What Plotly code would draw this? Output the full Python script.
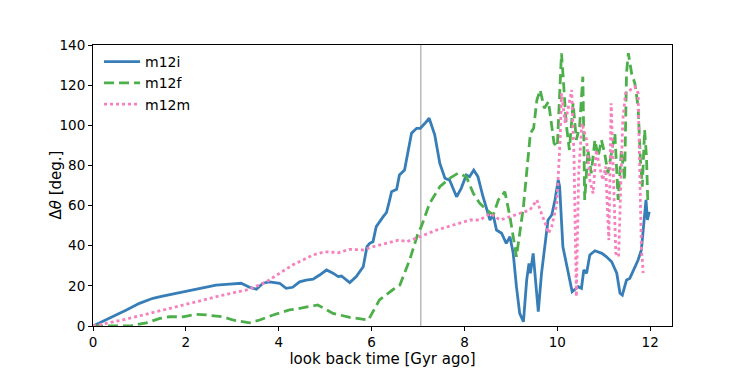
import plotly.graph_objects as go

# m12i (solid blue)
m12i_t = [0, 0.36, 0.72, 1.0, 1.29, 1.5, 1.79, 2.08, 2.37, 2.65, 2.94, 3.19, 3.37, 3.52,
          3.66, 3.8, 4.02, 4.16, 4.3, 4.45, 4.59, 4.74, 4.88, 5.03, 5.17, 5.28, 5.35, 5.53,
          5.67, 5.82, 5.9, 5.96, 6.03, 6.1, 6.25, 6.32, 6.39, 6.43, 6.54, 6.6, 6.71,
          6.86, 6.97, 7.05, 7.15, 7.24, 7.36, 7.47, 7.58, 7.68, 7.83, 7.93, 8.04, 8.11, 8.2,
          8.29, 8.4, 8.48, 8.55, 8.62, 8.69, 8.8, 8.9, 8.98, 9.05, 9.12, 9.19, 9.27, 9.34,
          9.39, 9.42, 9.48, 9.59, 9.66, 9.73, 9.8, 9.88, 9.95, 10.02, 10.05, 10.12, 10.23,
          10.32, 10.41, 10.45, 10.52, 10.57, 10.63, 10.7, 10.81, 10.96, 11.06, 11.17, 11.28,
          11.35, 11.4, 11.49, 11.56, 11.63, 11.74, 11.81, 11.89, 11.91, 11.94, 11.98]
m12i_v = [0, 3.8, 8, 11.3, 13.8, 14.9, 16.3, 17.6, 19.3, 20.4, 20.9, 21.3, 19.3, 18.3,
          21.3, 22, 21.3, 18.8, 19.3, 22, 22.9, 23.3, 25.4, 27.9, 26.3, 24.6, 24.9, 21.6,
          24.6, 29.5, 39.5, 41.2, 42, 49.5, 54.5, 56.5, 62.8, 66.9, 68.1, 75.2, 77.7,
          96, 98.5, 98.5, 101, 103.5, 95.2, 81, 73.6, 72.7, 64.4, 68.6, 75.2, 74.4, 77.7,
          74.4, 64.4, 57.8, 52.8, 55.3, 47.8, 46.2, 41.2, 44.5, 36.2, 19.6, 6.3, 2.1, 22.9,
          31.2, 26.3, 36.2, 7.1, 26.3, 41.2, 52.8, 55.3, 62.8, 72.7, 69.4, 39.5, 26.3,
          17.1, 18.8, 19.6, 18.8, 27.9, 26.3, 35.4, 37.5, 36.2, 34.5, 32, 26.3,
          16.3, 15.4, 22.9, 23.7, 27, 32.9, 37.9, 56.1, 62.8, 52.8, 56.9]

# m12f (dashed green)
m12f_t = [0, 0.8, 1.15, 1.44, 1.65, 1.94, 2.23, 2.44, 2.8, 3.01, 3.37, 3.59, 3.88, 4.23,
          4.45, 4.84, 5.17, 5.53, 5.93, 6.17, 6.47, 6.61, 6.82, 7.0, 7.07, 7.25, 7.47,
          7.68, 7.86, 8.04, 8.19, 8.33, 8.48, 8.62, 8.73, 8.87, 8.98, 9.12, 9.27, 9.42,
          9.49, 9.56, 9.63, 9.72, 9.81, 9.88, 9.93, 10.0, 10.06, 10.09, 10.13, 10.19,
          10.26, 10.34, 10.41, 10.48, 10.55, 10.59, 10.66, 10.73, 10.81, 10.88, 10.95,
          11.02, 11.09, 11.17, 11.24, 11.31, 11.38, 11.45, 11.49, 11.53, 11.6, 11.67,
          11.74, 11.79, 11.83, 11.88, 11.92, 11.95]
m12f_v = [0, 0, 1.6, 3.8, 4.6, 4.6, 5.8, 5.5, 4.6, 3, 1.6, 3, 5.5, 8,
          8.8, 10.5, 6.3, 4.3, 3, 13, 18.3, 20.4, 32.9, 46.2, 49.5, 61.1, 69.4,
          73.6, 76.1, 74.4, 66.1, 61.1, 57.8, 55.3, 62.8, 66.9, 54.5, 34.5, 59.4, 96,
          98.5, 112.6, 117.6, 108.5, 111.8, 101, 91, 89.3, 117.6, 135.9, 122.6, 101,
          87.7, 111, 92.7, 99.3, 124.2, 62.8, 87.7, 76.1, 92.7, 84.4, 92.7,
          86, 76.1, 87.7, 96, 62.8, 87.7, 72.7, 125.9, 135.9, 125.9, 120.9,
          109.3, 82.7, 69.4, 97.7, 84.4, 61.1]

# m12m (dotted pink)
m12m_t = [0, 0.64, 1.36, 2.08, 2.8, 3.37, 3.73, 4.02, 4.3, 4.52, 4.74, 4.99, 5.28, 5.53,
          5.82, 6.03, 6.32, 6.58, 6.76, 6.97, 7.04, 7.4, 7.76, 8.12, 8.33, 8.55, 8.77,
          8.98, 9.19, 9.41, 9.56, 9.63, 9.74, 9.81, 9.88, 9.99, 10.06, 10.09, 10.17,
          10.24, 10.31, 10.36, 10.41, 10.46, 10.53, 10.63, 10.7, 10.77, 10.84, 10.91,
          10.98, 11.04, 11.11, 11.16, 11.21, 11.26, 11.32, 11.37, 11.41, 11.47, 11.56,
          11.67, 11.74, 11.78, 11.81, 11.85]
m12m_v = [0, 3, 7.1, 11.3, 15.4, 18.3, 22, 26.3, 30.4, 32.9, 35.4, 37, 36.5, 38.2,
          37.9, 39.5, 41.2, 42.8, 42, 43.7, 44.5, 47.8, 50.3, 52.8, 52.8, 56.1, 52.8,
          54.5, 56.1, 57.8, 62.8, 57.8, 51.2, 46.2, 49.5, 61.1, 92.7, 116, 101,
          109.3, 117.6, 84.4, 14.6, 76.1, 101, 92.7, 72.7, 66.1, 87.7, 79.4,
          72.7, 79.4, 42.8, 111, 72.7, 36.2, 34.5, 72.7, 102.6, 116, 117.6,
          119.3, 116, 59.4, 39.5, 26.3]

vline_t = 7.06

fig = go.Figure()
fig.add_trace(go.Scatter(x=m12i_t, y=m12i_v, mode="lines", name="m12i",
                         line=dict(color="#377eb8", width=2.8)))
fig.add_trace(go.Scatter(x=m12f_t, y=m12f_v, mode="lines", name="m12f",
                         line=dict(color="#4daf4a", width=2.8, dash="10px,5px")))
fig.add_trace(go.Scatter(x=m12m_t, y=m12m_v, mode="lines", name="m12m",
                         line=dict(color="#f781bf", width=2.8, dash="3px,3px")))

fig.add_shape(type="line", x0=vline_t, x1=vline_t, y0=0, y1=1, yref="paper",
              line=dict(color="#aaaaaa", width=1.2), layer="below")

# y title as an annotation so it can sit closer to the tick labels
fig.add_annotation(text="Δ<i>θ</i> [deg.]", textangle=-90, xref="paper", yref="paper",
                   x=0, y=0.5, xanchor="center", yanchor="middle", xshift=-38,
                   showarrow=False, font=dict(size=15))

axis_style = dict(showline=True, mirror=True, linecolor="black", linewidth=1,
                  ticks="outside", ticklen=4, tickcolor="black", showgrid=False,
                  zeroline=False, tickfont=dict(size=13.5, color="black"))

# the page body adds an 8px offset, so margins are trimmed to keep the plot area in place
fig.update_layout(
    width=747, height=374,
    margin=dict(l=85, r=83, t=37, b=56),
    paper_bgcolor="white", plot_bgcolor="white",
    font=dict(family="DejaVu Sans", color="black"),
    showlegend=True,
    legend=dict(x=0.0104, y=0.996, xanchor="left", yanchor="top",
                bgcolor="rgba(0,0,0,0)", font=dict(size=14), itemwidth=36,
                tracegroupgap=0),
    xaxis=dict(range=[0, 12.47], tickvals=[0, 2, 4, 6, 8, 10, 12],
               title=dict(text="look back time [Gyr ago]", font=dict(size=15), standoff=1),
               **axis_style),
    yaxis=dict(range=[0, 140], tickvals=[0, 20, 40, 60, 80, 100, 120, 140],
               **axis_style),
)

fig.write_html("out.html")
